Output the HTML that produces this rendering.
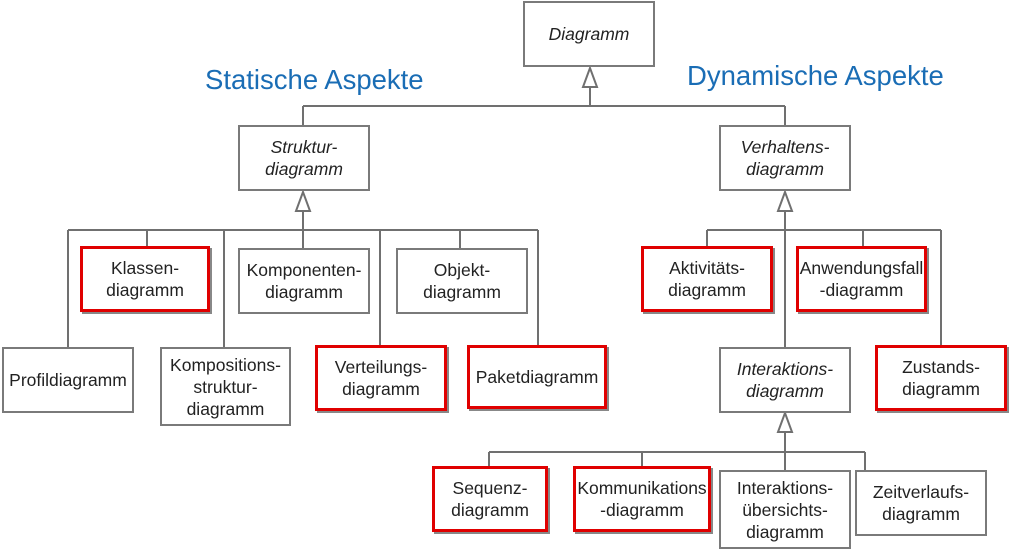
<!DOCTYPE html>
<html><head><meta charset="utf-8"><style>
body{margin:0;width:1009px;height:550px;background:#fff;position:relative;overflow:hidden;font-family:"Liberation Sans",Arial,sans-serif}
.b{position:absolute;box-sizing:border-box;border:2px solid #7a7a7a;background:#fff;display:flex;align-items:center;justify-content:center;text-align:center;font-size:17.5px;line-height:22px;color:#222;white-space:nowrap}
.r{border:3px solid #e00000;box-shadow:2px 2px 0 #888}
.i{font-style:italic}
.t{position:absolute;color:#1a6db5;font-size:27.5px;white-space:nowrap}
svg{position:absolute;left:0;top:0}
</style></head><body>
<svg width="1009" height="550" fill="none" stroke="#707070" stroke-width="2">
<path d="M590 87V106M303 106H785M303 106V125M785 106V125"/>
<polygon points="590,68 583,87 597,87" fill="#fff"/>
<path d="M303 211V248M68 230H538M68 230V347M147 230V248M224 230V347M380 230V345M460 230V248M538 230V345"/>
<polygon points="303,192 296,211 310,211" fill="#fff"/>
<path d="M785 211V347M707 230H941M707 230V246M863 230V246M941 230V345"/>
<polygon points="785,192 778,211 792,211" fill="#fff"/>
<path d="M785 432V470M489 452H865M489 452V466M642 452V466M865 452V470"/>
<polygon points="785,413 778,432 792,432" fill="#fff"/>
</svg>
<div class="t" style="left:205px;top:64px">Statische Aspekte</div>
<div class="t" style="left:687px;top:60px">Dynamische Aspekte</div>
<div class="b i" style="left:523px;top:1px;width:132px;height:66px">Diagramm</div>
<div class="b i" style="left:238px;top:125px;width:132px;height:66px">Struktur-<br>diagramm</div>
<div class="b i" style="left:719px;top:125px;width:132px;height:66px">Verhaltens-<br>diagramm</div>
<div class="b r" style="left:80px;top:246px;width:130px;height:66px">Klassen-<br>diagramm</div>
<div class="b" style="left:238px;top:248px;width:132px;height:66px">Komponenten-<br>diagramm</div>
<div class="b" style="left:396px;top:248px;width:132px;height:66px">Objekt-<br>diagramm</div>
<div class="b" style="left:2px;top:347px;width:132px;height:66px">Profildiagramm</div>
<div class="b" style="left:160px;top:347px;width:131px;height:79px">Kompositions-<br>struktur-<br>diagramm</div>
<div class="b r" style="left:315px;top:345px;width:132px;height:66px">Verteilungs-<br>diagramm</div>
<div class="b r" style="left:467px;top:345px;width:140px;height:64px">Paketdiagramm</div>
<div class="b r" style="left:641px;top:246px;width:132px;height:66px">Aktivitäts-<br>diagramm</div>
<div class="b r" style="left:796px;top:246px;width:131px;height:66px">Anwendungsfall<br>-diagramm</div>
<div class="b i" style="left:719px;top:347px;width:132px;height:66px">Interaktions-<br>diagramm</div>
<div class="b r" style="left:875px;top:345px;width:132px;height:66px">Zustands-<br>diagramm</div>
<div class="b r" style="left:432px;top:466px;width:116px;height:66px">Sequenz-<br>diagramm</div>
<div class="b r" style="left:573px;top:466px;width:138px;height:66px">Kommunikations<br>-diagramm</div>
<div class="b" style="left:719px;top:470px;width:132px;height:79px">Interaktions-<br>übersichts-<br>diagramm</div>
<div class="b" style="left:855px;top:470px;width:132px;height:66px">Zeitverlaufs-<br>diagramm</div>
</body></html>
